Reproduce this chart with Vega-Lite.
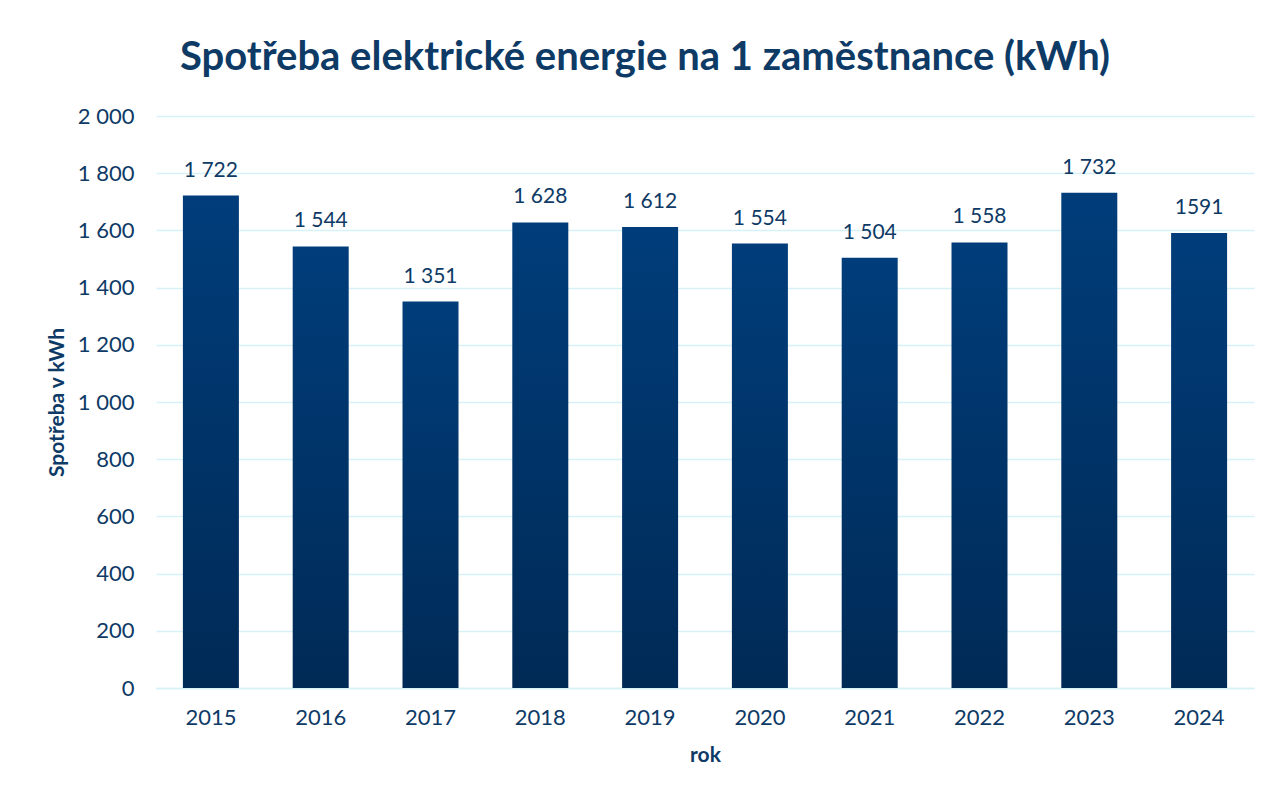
{
  "$schema": "https://vega.github.io/schema/vega-lite/v6.json",
  "width": 1098,
  "height": 572,
  "autosize": {"type": "none"},
  "padding": {"left": 156, "top": 116, "right": 17, "bottom": 108},
  "background": "white",
  "title": {
    "text": "Spotřeba elektrické energie na 1 zaměstnance (kWh)",
    "font": "Lato",
    "fontSize": 40,
    "fontWeight": "bold",
    "color": "#0E3A66",
    "anchor": "middle",
    "dx": -60,
    "offset": 27
  },
  "data": {
    "values": [
      {"rok": "2015", "hodnota": 1722, "label": "1 722"},
      {"rok": "2016", "hodnota": 1544, "label": "1 544"},
      {"rok": "2017", "hodnota": 1351, "label": "1 351"},
      {"rok": "2018", "hodnota": 1628, "label": "1 628"},
      {"rok": "2019", "hodnota": 1612, "label": "1 612"},
      {"rok": "2020", "hodnota": 1554, "label": "1 554"},
      {"rok": "2021", "hodnota": 1504, "label": "1 504"},
      {"rok": "2022", "hodnota": 1558, "label": "1 558"},
      {"rok": "2023", "hodnota": 1732, "label": "1 732"},
      {"rok": "2024", "hodnota": 1591, "label": "1591"}
    ]
  },
  "encoding": {
    "x": {
      "field": "rok",
      "type": "ordinal",
      "scale": {"paddingInner": 0.49, "paddingOuter": 0.245},
      "axis": {
        "title": "rok",
        "labelAngle": 0,
        "labelFont": "Lato",
        "labelFontSize": 22,
        "labelColor": "#0E3A66",
        "labelPadding": 19,
        "ticks": false,
        "domain": true,
        "domainColor": "#D6F1F8",
        "domainWidth": 1.5,
        "titleFont": "Lato",
        "titleFontSize": 21,
        "titleFontWeight": "bold",
        "titleColor": "#0E3A66",
        "titlePadding": 16
      }
    },
    "y": {
      "field": "hodnota",
      "type": "quantitative",
      "scale": {"domain": [0, 2000], "nice": false},
      "axis": {
        "title": "Spotřeba v kWh",
        "values": [0, 200, 400, 600, 800, 1000, 1200, 1400, 1600, 1800, 2000],
        "labelExpr": "replace(format(datum.value, ','), ',', ' ')",
        "labelFont": "Lato",
        "labelFontSize": 22,
        "labelColor": "#0E3A66",
        "labelPadding": 22,
        "ticks": false,
        "domain": false,
        "grid": true,
        "gridColor": "#D6F1F8",
        "gridWidth": 1.5,
        "titleFont": "Lato",
        "titleFontSize": 21,
        "titleFontWeight": "bold",
        "titleColor": "#0E3A66",
        "titlePadding": 10
      }
    }
  },
  "layer": [
    {
      "mark": {
        "type": "bar",
        "color": {
          "gradient": "linear",
          "x1": 0, "y1": 0, "x2": 0, "y2": 1,
          "stops": [
            {"offset": 0, "color": "#003D7A"},
            {"offset": 1, "color": "#002A56"}
          ]
        }
      }
    },
    {
      "mark": {
        "type": "text",
        "baseline": "bottom",
        "dy": -15,
        "font": "Lato",
        "fontSize": 21,
        "color": "#0E3A66"
      },
      "encoding": {"text": {"field": "label"}}
    }
  ],
  "config": {"view": {"stroke": null}}
}
